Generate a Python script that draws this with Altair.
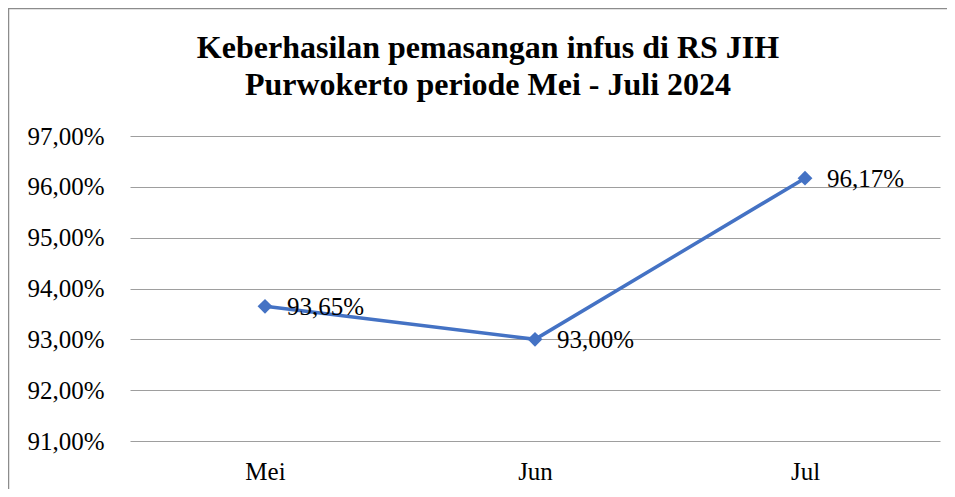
import altair as alt
import pandas as pd

months = ["Mei", "Jun", "Jul"]
values = [93.65, 93.00, 96.17]
labels = ["93,65%", "93,00%", "96,17%"]

title_line1 = "Keberhasilan pemasangan infus di RS JIH"
title_line2 = "Purwokerto periode Mei - Juli 2024"

df = pd.DataFrame({"bulan": months, "nilai": values, "label": labels})
one = pd.DataFrame({"k": [0]})

FONT = "Liberation Serif"
BLUE = "#4472C4"

x_enc = alt.X("bulan:N", sort=months, title=None,
              scale=alt.Scale(type="point", padding=0.5),
              axis=alt.Axis(labelAngle=0, domain=False, ticks=False, labelFont=FONT,
                            labelFontSize=25, labelColor="black", labelPadding=18, grid=False))
y_enc = alt.Y("nilai:Q", title=None,
              scale=alt.Scale(domain=[91, 97], nice=False, zero=False),
              axis=alt.Axis(values=[91, 92, 93, 94, 95, 96, 97], domain=False, ticks=False,
                            labelFont=FONT, labelFontSize=25, labelColor="black", labelPadding=26,
                            gridColor="#9e9e9e", gridWidth=1,
                            labelExpr="replace(format(datum.value, '.2f'), '.', ',') + '%'"))

base = alt.Chart(df)

line = base.mark_line(color=BLUE, strokeWidth=3.5).encode(x=x_enc, y=y_enc)
pts = base.mark_point(shape="diamond", filled=True, size=220, color=BLUE, opacity=1).encode(x=x_enc, y=y_enc)
txt = base.mark_text(align="left", baseline="middle", dx=22, dy=1, font=FONT, fontSize=25,
                     color="black").encode(x=x_enc, y=y_enc, text="label:N")

border = alt.Chart(one).mark_rect(filled=False, stroke="#8c8c8c", strokeWidth=1.5).encode(
    x=alt.value(-121.5), x2=alt.value(900), y=alt.value(-127.5), y2=alt.value(450))

t1 = alt.Chart(one).mark_text(font=FONT, fontSize=32, fontWeight="bold", color="black",
                              align="center", baseline="alphabetic").encode(
    x=alt.value(358), y=alt.value(-78), text=alt.value(title_line1))
t2 = alt.Chart(one).mark_text(font=FONT, fontSize=32, fontWeight="bold", color="black",
                              align="center", baseline="alphabetic").encode(
    x=alt.value(358), y=alt.value(-41), text=alt.value(title_line2))

chart = alt.layer(border, t1, t2, line, pts, txt).properties(
    width=810, height=305,
    autosize=alt.AutoSizeParams(type="none"),
    padding={"left": 122, "top": 128, "right": 7, "bottom": 48},
).configure_view(stroke=None)

chart.save("out.html", embed_options={"renderer": "svg", "actions": False})
